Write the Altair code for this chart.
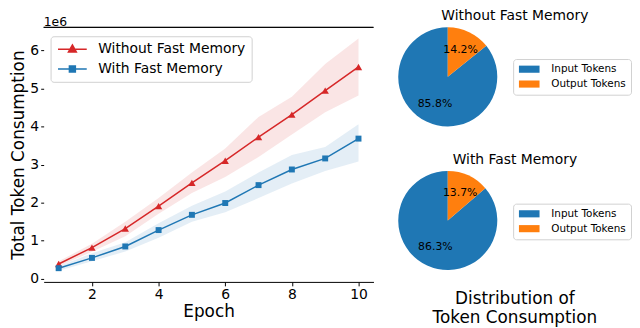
import altair as alt
import pandas as pd

# ---------------- data ----------------
epochs = [1, 2, 3, 4, 5, 6, 7, 8, 9, 10]
series_names = ["Without Fast Memory", "With Fast Memory"]
series_colors = ["#d62728", "#1f77b4"]

without_mean = [0.39, 0.82, 1.32, 1.91, 2.52, 3.10, 3.72, 4.31, 4.94, 5.56]
without_lo = [0.33, 0.71, 1.12, 1.71, 2.25, 2.67, 3.20, 3.79, 4.37, 4.81]
without_hi = [0.46, 0.92, 1.50, 2.12, 2.79, 3.42, 4.25, 4.78, 5.64, 6.31]

with_mean = [0.28, 0.55, 0.85, 1.28, 1.68, 1.99, 2.46, 2.87, 3.16, 3.68]
with_lo = [0.21, 0.46, 0.72, 1.08, 1.50, 1.75, 2.12, 2.50, 2.83, 3.08]
with_hi = [0.33, 0.67, 0.96, 1.46, 1.92, 2.29, 2.79, 3.25, 3.46, 4.06]

y_ticks = [0, 1, 2, 3, 4, 5, 6]
x_ticks = [2, 4, 6, 8, 10]
y_multiplier = ["1e6"]

token_types = ["Input Tokens", "Output Tokens"]
token_colors = ["#1f77b4", "#ff7f0e"]
pie_without = [85.8, 14.2]
pie_with = [86.3, 13.7]

# ---------------- tables ----------------
rows = []
for name, m, lo, hi in [
    (series_names[0], without_mean, without_lo, without_hi),
    (series_names[1], with_mean, with_lo, with_hi),
]:
    for e, a, b, c in zip(epochs, m, lo, hi):
        rows.append({"epoch": e, "series": name, "mean": a, "lo": b, "hi": c})
df = pd.DataFrame(rows)

FONT = "DejaVu Sans"
YTITLE = "Total Token Consumption"
PW, PH = 333, 257

xscale = alt.Scale(domain=[0.55, 10.45], nice=False, zero=False)
yscale = alt.Scale(domain=[-0.08, 6.6], nice=False, zero=False)
xaxis = alt.Axis(values=x_ticks, title="Epoch", titleFontSize=17, labelFontSize=14,
                 grid=False, tickSize=4, labelPadding=2, titlePadding=2,
                 domainColor="black", tickColor="black", format="d")
yaxis = alt.Axis(values=y_ticks, title=YTITLE, titleFontSize=17, labelFontSize=14,
                 grid=False, domain=False, tickSize=3, tickColor="black",
                 labelPadding=2, titlePadding=2, format="d")

# colour scale for the drawn marks (domain listed in reverse so that it is kept
# apart from the legend-only scales below)
cscale = alt.Scale(domain=series_names[::-1], range=series_colors[::-1])
color_nolegend = alt.Color("series:N", scale=cscale, legend=None)

X = alt.X("epoch:Q", scale=xscale, axis=xaxis)

band = alt.Chart(df).mark_area(opacity=0.12).encode(
    x=X,
    y=alt.Y("lo:Q", scale=yscale, axis=yaxis, title=YTITLE),
    y2="hi:Q",
    color=color_nolegend,
)
lines = alt.Chart(df).mark_line(strokeWidth=1.5).encode(
    x=X,
    y=alt.Y("mean:Q", scale=yscale, axis=yaxis, title=YTITLE),
    color=color_nolegend,
)
pts_tri = alt.Chart(df).transform_filter(
    alt.datum.series == series_names[0]
).mark_point(shape="triangle-up", filled=True, opacity=1, size=55).encode(
    x=X,
    y=alt.Y("mean:Q", scale=yscale, axis=yaxis, title=YTITLE),
    color=color_nolegend,
)
pts_sq = alt.Chart(df).transform_filter(
    alt.datum.series == series_names[1]
).mark_point(shape="square", filled=True, opacity=1, size=36).encode(
    x=X,
    y=alt.Y("mean:Q", scale=yscale, axis=yaxis, title=YTITLE),
    color=color_nolegend,
)

# legend-only layer: its marks are pushed outside the domain and clipped away
tri_path = "M-2.9,0H2.9M0,-0.85L0.8,0.6L-0.8,0.6Z"
sq_path = "M-2.9,0H2.9M-0.6,-0.6H0.6V0.6H-0.6Z"
leg = alt.Legend(orient="none", legendX=7, legendY=9, title=None,
                 labelFontSize=14, labelFont=FONT, labelColor="black",
                 symbolSize=100, symbolOffset=9, labelOffset=19,
                 symbolStrokeWidth=1.5, rowPadding=6,
                 strokeColor="#d0d0d0", fillColor="white", padding=6,
                 cornerRadius=3)
lscale = alt.Scale(domain=series_names, range=series_colors)
legend_layer = alt.Chart(df).transform_filter(
    alt.datum.epoch == 1
).transform_calculate(
    off="datum.mean + 100"
).mark_point(filled=True, opacity=1, strokeWidth=1.5, clip=True).encode(
    x=X,
    y=alt.Y("off:Q", scale=yscale, axis=yaxis, title=YTITLE),
    fill=alt.Fill("series:N", scale=lscale, legend=leg),
    stroke=alt.Stroke("series:N", scale=lscale, legend=leg),
    shape=alt.Shape("series:N", scale=alt.Scale(domain=series_names, range=[tri_path, sq_path]), legend=leg),
)

# top spine
top_spine = alt.Chart(df).transform_filter(alt.datum.epoch == 1).mark_rule(
    color="black", strokeWidth=1
).encode(x=alt.value(0), x2=alt.value(PW), y=alt.value(0))

# axis multiplier text above the plot
mult = alt.Chart(pd.DataFrame({"t": y_multiplier})).mark_text(
    align="left", baseline="alphabetic", fontSize=12.5, font=FONT, color="black", dy=-1
).encode(text="t:N", x=alt.value(0), y=alt.value(0))

left = alt.layer(band, lines, pts_tri, pts_sq, legend_layer, top_spine, mult).properties(
    width=PW, height=PH,
)


def make_pie(values, title, ly):
    pdf = pd.DataFrame({
        "type": token_types,
        "value": values,
        "ord": [1, 0],
        "label": [f"{v:.1f}%" for v in values],
    })
    base = alt.Chart(pdf).encode(
        theta=alt.Theta("value:Q", stack=True),
        order=alt.Order("ord:Q"),
    )
    arc = base.mark_arc(outerRadius=50).encode(
        color=alt.Color("type:N",
                        scale=alt.Scale(domain=token_types, range=token_colors),
                        legend=alt.Legend(orient="none", legendX=116, legendY=ly,
                                          title=None, labelFontSize=10.5,
                                          labelFont=FONT, labelColor="black",
                                          symbolType="M-2.6,-0.9H2.6V0.9H-2.6Z",
                                          symbolSize=64, symbolOffset=6,
                                          labelOffset=17, rowPadding=4,
                                          strokeColor="#d0d0d0", fillColor="white",
                                          padding=5, cornerRadius=3)),
    )
    txt = base.mark_text(radius=30, fontSize=11, font=FONT, color="black").encode(
        text="label:N"
    )
    return alt.layer(arc, txt).properties(
        width=100, height=100,
        title=alt.TitleParams(title, anchor="middle", frame="bounds", fontSize=14,
                              fontWeight="normal", font=FONT, offset=4, color="black"),
    )


pie1 = make_pie(pie_without, "Without Fast Memory", 32)
pie2 = make_pie(pie_with, "With Fast Memory", 33)

right = alt.vconcat(pie1, pie2, spacing=27).resolve_scale(
    color="independent", theta="independent"
).properties(
    title=alt.TitleParams(["Distribution of", "Token Consumption"], orient="bottom",
                          anchor="middle", fontSize=17, fontWeight="normal",
                          font=FONT, offset=21, lineHeight=19, color="black"),
)

chart = alt.hconcat(left, right, spacing=24).resolve_scale(
    color="independent", fill="independent", stroke="independent",
    shape="independent", theta="independent",
).configure(
    font=FONT, padding={"left": 2, "top": 0, "right": 0, "bottom": 0},
).configure_view(
    stroke=None,
).configure_axis(
    labelFont=FONT, titleFont=FONT, labelColor="black", titleColor="black",
    titleFontWeight="normal",
)

chart.save("out.html", embed_options={"renderer": "svg", "actions": False})
